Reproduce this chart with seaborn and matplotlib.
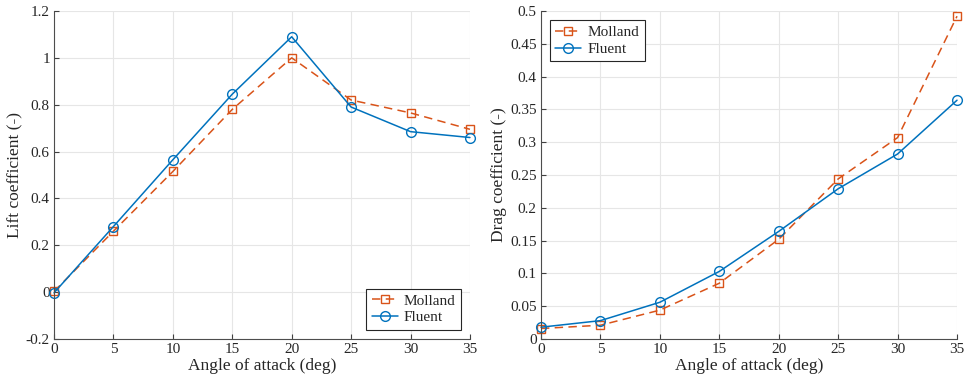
import matplotlib
matplotlib.use("Agg")
import matplotlib.pyplot as plt
import seaborn as sns
import pandas as pd

angles = [0, 5, 10, 15, 20, 25, 30, 35]
lift_molland = [0.003, 0.26, 0.515, 0.78, 1.0, 0.82, 0.765, 0.695]
lift_fluent = [-0.003, 0.28, 0.565, 0.845, 1.09, 0.79, 0.685, 0.66]
drag_molland = [0.016, 0.021, 0.044, 0.085, 0.152, 0.244, 0.307, 0.492]
drag_fluent = [0.018, 0.028, 0.056, 0.103, 0.164, 0.229, 0.282, 0.364]

lift_ticks = [-0.2, 0, 0.2, 0.4, 0.6, 0.8, 1, 1.2]
lift_labels = ["-0.2", "0", "0.2", "0.4", "0.6", "0.8", "1", "1.2"]
drag_ticks = [0, 0.05, 0.1, 0.15, 0.2, 0.25, 0.3, 0.35, 0.4, 0.45, 0.5]
drag_labels = ["0", "0.05", "0.1", "0.15", "0.2", "0.25", "0.3", "0.35", "0.4", "0.45", "0.5"]

sns.set_style("whitegrid")
plt.rcParams['font.family'] = ['Liberation Serif', 'DejaVu Serif']

ORANGE = "#D95319"
BLUE = "#0072BD"

fig = plt.figure(figsize=(9.66, 3.87), dpi=100)
ax1 = fig.add_axes([0.0559, 0.124, 0.4306, 0.8476])
ax2 = fig.add_axes([0.5600, 0.124, 0.4307, 0.8476])

def draw(ax, ym, yf, ticks, labels, ylim, ylabel, loc):
    df_m = pd.DataFrame({"x": angles, "y": ym})
    df_f = pd.DataFrame({"x": angles, "y": yf})
    sns.lineplot(data=df_m, x="x", y="y", ax=ax, color=ORANGE,
                 linestyle=(0, (5.5, 3.5)),
                 marker="s", markersize=6, markerfacecolor="none",
                 markeredgecolor=ORANGE, markeredgewidth=1.0, linewidth=1.1,
                 label="Molland", clip_on=False)
    sns.lineplot(data=df_f, x="x", y="y", ax=ax, color=BLUE, linestyle="-",
                 marker="o", markersize=7, markerfacecolor="none",
                 markeredgecolor=BLUE, markeredgewidth=1.0, linewidth=1.1,
                 label="Fluent", clip_on=False)
    ax.set_xlim(0, 35)
    ax.set_ylim(*ylim)
    ax.set_xticks(angles)
    ax.set_xticklabels([str(a) for a in angles])
    ax.set_yticks(ticks)
    ax.set_yticklabels(labels)
    ax.set_xlabel("Angle of attack (deg)", fontsize=12.5, color="#262626", labelpad=1)
    ax.set_ylabel(ylabel, fontsize=12.5, color="#262626", labelpad=2)
    ax.tick_params(axis="both", which="both", direction="in", length=3.5,
                   width=0.8, color="#404040", labelsize=11, labelcolor="#262626",
                   pad=3, bottom=True, left=True)
    ax.grid(True, color="#E6E6E6", linewidth=0.8)
    for s in ["top", "right"]:
        ax.spines[s].set_visible(False)
    for s in ["left", "bottom"]:
        ax.spines[s].set_visible(True)
        ax.spines[s].set_color("#4d4d4d")
        ax.spines[s].set_linewidth(0.8)
    leg = ax.legend(loc=loc, fontsize=11, frameon=True, fancybox=False,
                    edgecolor="#262626", framealpha=1, handlelength=1.7,
                    borderpad=0.35, labelspacing=0.2, handletextpad=0.4,
                    borderaxespad=0.6)
    leg.get_frame().set_linewidth(0.8)

draw(ax1, lift_molland, lift_fluent, lift_ticks, lift_labels, (-0.2, 1.2),
     "Lift coefficient (-)", "lower right")
draw(ax2, drag_molland, drag_fluent, drag_ticks, drag_labels, (0, 0.5),
     "Drag coefficient (-)", "upper left")

fig.savefig("out.png", dpi=100)
